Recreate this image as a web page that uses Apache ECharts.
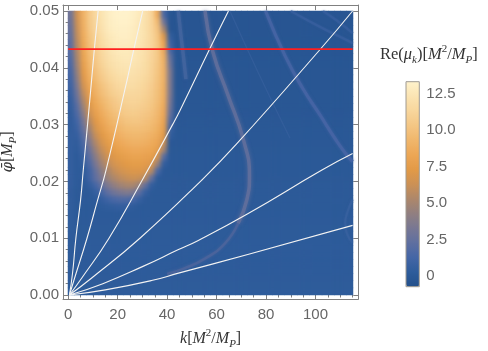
<!DOCTYPE html>
<html><head><meta charset="utf-8">
<script src="https://cdn.jsdelivr.net/npm/echarts@6/dist/echarts.min.js"></script>
<style>
html,body{margin:0;padding:0;background:#fff}
#wrap{position:relative;width:488px;height:351px}
#c1,#c3{position:absolute;left:0;top:0;width:488px;height:351px}
#clip{position:absolute;left:68px;top:11px;width:285px;height:284px;overflow:hidden}
#c2{position:absolute;left:0;top:0;width:285px;height:284px;filter:url(#soft)}
</style>
</head><body>
<svg width="0" height="0" style="position:absolute">
  <filter id="soft" x="0" y="0" width="1" height="1" color-interpolation-filters="sRGB">
    <feGaussianBlur stdDeviation="2"/>
    <feComponentTransfer><feFuncA type="table" tableValues="1 1"/></feComponentTransfer>
  </filter>
</svg>
<div id="wrap"><div id="c1"></div><div id="clip"><div id="c2"></div></div><div id="c3"></div></div>
<script>
// ---- grid of the density plot ----
const kStep = 2.5, kCount = 46;          // k from 0 to 115
const phiStep = 0.00125, phiCount = 40;  // phi from 0 to 0.05

// background value per row (bottom -> top)
const rowBackground = [
  0.25,0.24,0.23,0.22,0.21,0.2,0.19,0.18,0.16,0.15,
  0.14,0.12,0.11,0.1,0.08,0.07,0.05,0.04,0.02,0,
  -0.02,-0.04,-0.06,-0.08,-0.1,-0.12,-0.14,-0.16,-0.18,-0.2,
  -0.21,-0.22,-0.23,-0.24,-0.25,-0.26,-0.27,-0.28,-0.29,-0.3
];

// instability blob: [row, values from column 0]; null = background
const blobRows = [
  [39,[3.0,6.5,9.0,10.5,11.5,12.3,12.9,13.2,13.3,13.3,13.1,12.7,12.1,11.2,8.5,1.5]],
  [38,[2.8,6.3,8.9,10.4,11.4,12.2,12.8,13.1,13.2,13.2,13.0,12.6,12.0,11.2,9.5,3.0]],
  [37,[2.6,6.1,8.8,10.3,11.3,12.1,12.7,13.0,13.1,13.1,12.9,12.5,12.0,11.2,10.0,5.0]],
  [36,[2.4,5.9,8.6,10.1,11.1,11.9,12.5,12.8,13.0,13.0,12.8,12.5,12.0,11.3,10.2,7.0,0.5]],
  [35,[2.2,5.7,8.4,9.9,10.9,11.7,12.3,12.7,12.8,12.8,12.7,12.4,11.9,11.3,10.3,8.0,1.0]],
  [34,[2.0,5.4,8.2,9.7,10.7,11.5,12.1,12.5,12.7,12.7,12.6,12.3,11.9,11.3,10.4,8.5,1.5]],
  [33,[1.8,5.1,8.0,9.5,10.5,11.3,11.9,12.3,12.5,12.6,12.5,12.2,11.8,11.2,10.4,8.8,2.5]],
  [32,[1.6,4.8,7.7,9.3,10.3,11.1,11.7,12.1,12.3,12.4,12.3,12.1,11.7,11.1,10.3,9.0,3.0]],
  [31,[1.4,4.4,7.4,9.0,10.0,10.8,11.4,11.8,12.1,12.2,12.1,11.9,11.6,11.0,10.2,9.0,3.5]],
  [30,[1.2,4.0,7.0,8.7,9.7,10.5,11.1,11.5,11.8,11.9,11.9,11.7,11.4,10.9,10.1,9.0,3.5]],
  [29,[1.0,3.5,6.5,8.3,9.3,10.1,10.7,11.2,11.5,11.7,11.7,11.5,11.2,10.7,10.0,8.9,3.5]],
  [28,[0.8,3.0,5.9,7.9,9.0,9.8,10.4,10.9,11.2,11.4,11.4,11.3,11.0,10.6,9.9,8.8,3.5]],
  [27,[0.6,2.5,5.3,7.4,8.6,9.4,10.0,10.5,10.9,11.1,11.2,11.1,10.8,10.4,9.8,8.7,3.3]],
  [26,[0.5,2.0,4.6,6.9,8.2,9.0,9.7,10.2,10.6,10.8,10.9,10.8,10.6,10.2,9.6,8.5,3.0]],
  [25,[0.4,1.6,3.9,6.3,7.7,8.6,9.3,9.8,10.2,10.5,10.6,10.5,10.3,10.0,9.4,8.3,2.5]],
  [24,[0.4,1.2,3.2,5.6,7.2,8.2,8.9,9.4,9.8,10.1,10.2,10.2,10.0,9.7,9.2,8.0,1.8]],
  [23,[0.4,0.9,2.6,4.9,6.7,7.7,8.5,9.0,9.4,9.7,9.8,9.8,9.7,9.4,8.9,7.7,1.0]],
  [22,[0.5,0.6,2.0,4.2,6.1,7.2,8.0,8.6,9.0,9.3,9.4,9.4,9.3,9.0,8.6,7.3,0.5]],
  [21,[0.5,0.4,1.5,3.5,5.4,6.7,7.5,8.1,8.5,8.8,9.0,9.0,8.9,8.6,8.2,6.5]],
  [20,[0.5,0.3,1.1,2.8,4.7,6.1,7.0,7.6,8.0,8.3,8.5,8.5,8.4,8.2,7.7,5.0]],
  [19,[0.5,0.2,0.8,2.2,4.0,5.5,6.5,7.1,7.5,7.8,8.0,8.0,7.9,7.7,6.5,2.0]],
  [18,[0.5,0.2,0.5,1.6,3.3,4.8,5.9,6.6,7.0,7.3,7.5,7.5,7.4,7.0,4.5,0.5]],
  [17,[0.5,0.2,0.3,1.1,2.6,4.1,5.2,6.0,6.5,6.8,7.0,7.0,6.8,5.5,1.5]],
  [16,[0.5,0.2,0.2,1.0,2.3,3.5,4.6,5.3,5.8,6.1,6.3,6.2,5.5,2.5,0.2]],
  [15,[0.5,0.2,0.1,0.5,1.3,2.5,3.5,4.3,4.8,5.1,5.2,4.5,2.5,0.5]],
  [14,[0.4,0.1,null,0.1,0.6,1.4,2.3,3.0,3.4,3.6,3.4,2.2,0.7]],
  [13,[0.4,null,null,null,0.2,0.6,1.1,1.5,1.7,1.7,1.4,0.7]],
  [12,[0.4,null,null,null,null,0.25,0.4,0.5,0.6,0.5,0.3]],
  [11,[0.35]],[10,[0.35]],[9,[0.35]],[8,[0.3]]
];

// white curves [k, phi]
const lineA = [[0.5,0],[1.8,0.004],[3.1,0.01],[5.0,0.0167],[6.1,0.022],[8.9,0.0351],[10.6,0.0434],[12.1,0.05]];
const lineB = [[0.5,0],[2.6,0.003],[7.6,0.01],[11.9,0.0167],[15.3,0.022],[22.9,0.0361],[26.6,0.0434],[30.1,0.05]];
const lineC = [[0.5,0],[5.5,0.003],[16.5,0.01],[29.9,0.0202],[42.2,0.03],[45.2,0.0325],[57.3,0.0434],[64.8,0.05]];
const lineD = [[0.5,0],[9.5,0.003],[29,0.01],[53.9,0.0202],[68.1,0.0266],[102.2,0.0434],[115,0.05]];
const lineE = [[0.5,0],[14,0.002],[30,0.005],[44.6,0.008],[52.6,0.0096],[72.6,0.0143],[102.6,0.022],[115,0.0249]];
const lineF = [[0.5,0],[15,0.0009],[33.7,0.00255],[44.6,0.00385],[72.6,0.00714],[115,0.01226]];
const whiteLines = [lineA, lineB, lineC, lineD, lineE, lineF];

// red reference line
const redLine = [[0,0.0433],[115,0.0433]];

// faint resonance bands [k, phi]
const band1 = [[44.5,0.05],[45.5,0.046],[46.6,0.042],[47.6,0.038]];
const band2Upper = [[55.3,0.05],[58.5,0.0428],[64.6,0.0352],[70.8,0.0274],[73.3,0.021],[72.2,0.0167],[68.7,0.0126]];
const band2Lower = [[68.7,0.0126],[63.4,0.0091],[55.3,0.0064],[47,0.0047],[40,0.0037]];
const band3 = [[79.8,0.05],[87.6,0.0422],[94.8,0.0364],[101.8,0.0317],[107.8,0.0276],[112,0.025],[115,0.0235]];
const band4 = [[90,0.05],[101.8,0.0472],[113.9,0.0446],[115,0.0443]];
const band5 = [[103,0.05],[109,0.0482],[115,0.0461]];
const faintLine = [[65.4,0.05],[77,0.039],[89.7,0.0276]];
const arcRight = [[115,0.0168],[113,0.0147],[112,0.0127],[112.7,0.0108],[115,0.0092]];

// ticks
const xMajor = [0,20,40,60,80,100];
const xMinor = [5,10,15,25,30,35,45,50,55,65,70,75,85,90,95,105,110,115];
const yMajor = [0,0.01,0.02,0.03,0.04,0.05];
const yMinor = [0.002,0.004,0.006,0.008,0.012,0.014,0.016,0.018,0.022,0.024,0.026,0.028,0.032,0.034,0.036,0.038,0.042,0.044,0.046,0.048];
const cbMajor = [0,2.5,5,7.5,10,12.5];
const cbMinor = [-0.5,0.5,1,1.5,2,3,3.5,4,4.5,5.5,6,6.5,7,8,8.5,9,9.5,10.5,11,11.5,12,13];
const cbMin = -0.73, cbMax = 13.3;
const palette = ['#23508b','#2e5c9b','#4466a6','#5f6fa0','#787793','#917f80','#ad876a','#cc9155','#e29a47','#eca655','#f0b66b','#f4c684','#f8d69c','#fbe4b2','#fff2cb'];

// ---- build ----
const kCats = [], phiCats = [];
for (let c = 0; c < kCount; c++) kCats.push(String(c));
for (let r = 0; r < phiCount; r++) phiCats.push(String(r));
const blobMap = {};
blobRows.forEach(([r, vals]) => blobMap[r] = vals);
const heatData = [];
for (let r = 0; r < phiCount; r++) {
  const vals = blobMap[r];
  for (let c = 0; c < kCount; c++) {
    let v = rowBackground[r];
    if (vals && c < vals.length && vals[c] !== null) v = vals[c];
    heatData.push([c, r, v]);
  }
}

const FRAME = '#808080', LABEL = '#666';
const sansLbl = {color: LABEL, fontSize: 15, fontFamily: 'Liberation Sans, Arial, sans-serif'};
const serif = 'Liberation Serif, DejaVu Serif, serif';
function richSet(fs, sfs) {
  return {
    r: {fontFamily: serif, fontSize: fs, fontWeight: 'normal', color: '#333', lineHeight: 22},
    i: {fontFamily: serif, fontSize: fs, fontWeight: 'normal', fontStyle: 'italic', color: '#333', lineHeight: 22},
    ph: {fontFamily: 'DejaVu Serif, serif', fontSize: fs - 1, fontWeight: 'normal', fontStyle: 'italic', color: '#333', lineHeight: 22},
    sup: {fontFamily: serif, fontSize: sfs, fontWeight: 'normal', color: '#333', lineHeight: 11, verticalAlign: 'top'},
    sub: {fontFamily: serif, fontSize: sfs, fontWeight: 'normal', fontStyle: 'italic', color: '#333', lineHeight: 11, verticalAlign: 'bottom'}
  };
}

const frameRect = {left: 63, top: 5, right: 129.7, bottom: 52, outerBoundsMode: 'none', containLabel: false};
const heatRect = {left: 68, top: 11, right: 135, bottom: 56, outerBoundsMode: 'none', containLabel: false};
const cbRect = {left: 406, top: 81.7, width: 13.3, height: 205, outerBoundsMode: 'none', containLabel: false};

function valAxis(gridIndex, pos, min, max, major, opts) {
  return Object.assign({
    gridIndex, type: 'value', position: pos, min, max,
    axisLine: {show: true, onZero: false, lineStyle: {color: FRAME, width: 1}},
    axisTick: {show: true, inside: true, length: 5, customValues: major, lineStyle: {color: FRAME, width: 1}},
    axisLabel: {show: false},
    splitLine: {show: false}, silent: true
  }, opts || {});
}
const minorTick = vals => ({axisLine: {show: false}, axisTick: {show: true, inside: true, length: 2.5, customValues: vals, lineStyle: {color: FRAME}}});

const xAxes = [
  {gridIndex: 0, type: 'category', data: kCats, show: false},
  valAxis(1, 'bottom', -2.1, 117.3, xMajor, {
    axisLabel: Object.assign({show: true, customValues: xMajor, margin: 8}, sansLbl),
    name: '{i|k}{r|[}{i|M}{sup|2}{r|/}{i|M}{sub|P}{r|]}', nameLocation: 'middle', nameGap: 29,
    nameTextStyle: {rich: richSet(16, 11)}
  }),
  valAxis(1, 'top', -2.1, 117.3, xMajor),
  valAxis(2, 'bottom', -2.1, 117.3, xMinor, minorTick(xMinor)),
  valAxis(2, 'top', -2.1, 117.3, xMinor, minorTick(xMinor)),
  {gridIndex: 3, type: 'value', min: 0, max: 1, show: false},
  {gridIndex: 4, type: 'value', min: 0, max: 1, show: false}
];
const yAxes = [
  {gridIndex: 0, type: 'category', data: phiCats, show: false},
  valAxis(1, 'left', -0.0007, 0.05106, yMajor, {
    axisLabel: Object.assign({show: true, customValues: yMajor, margin: 4, formatter: v => v.toFixed(2)}, sansLbl),
    name: '{ph|φ̄}{r|[}{i|M}{sub|P}{r|]}', nameLocation: 'middle', nameGap: 34,
    nameTextStyle: {rich: richSet(16, 11)}
  }),
  valAxis(1, 'right', -0.0007, 0.05106, yMajor),
  valAxis(2, 'left', -0.0007, 0.05106, yMinor, minorTick(yMinor)),
  valAxis(2, 'right', -0.0007, 0.05106, yMinor, minorTick(yMinor)),
  valAxis(3, 'right', cbMin, cbMax, cbMajor, {
    axisLine: {show: false},
    axisTick: {show: true, inside: false, length: 3, customValues: cbMajor, lineStyle: {color: '#999'}},
    axisLabel: Object.assign({show: true, customValues: cbMajor, margin: 7, formatter: v => v === 0 ? '0' : v.toFixed(1)}, sansLbl)
  }),
  valAxis(4, 'right', cbMin, cbMax, cbMinor, {
    axisLine: {show: false},
    axisTick: {show: true, inside: false, length: 2, customValues: cbMinor, lineStyle: {color: '#aaa'}}
  })
];

const heatSeries = {type: 'heatmap', xAxisIndex: 0, yAxisIndex: 0, data: heatData, silent: true, z: 1, emphasis: {disabled: true}};
const vmBase = {type: 'continuous', seriesIndex: 0, min: cbMin, max: cbMax, inRange: {color: palette},
  calculable: false, hoverLink: false, realtime: false, text: null, showLabel: false, padding: 0};

// Layer 1: heat (sharp), frame, axes, colorbar, texts
const c1 = echarts.init(document.getElementById('c1'), null, {renderer: 'canvas', width: 488, height: 351});
c1.setOption({
  animation: false,
  backgroundColor: '#ffffff',
  title: {
    text: '{r|Re(}{i|μ}{sub|k}{r|)[}{i|M}{sup|2}{r|/}{i|M}{sub|P}{r|]}',
    left: 380, top: 44, padding: 0,
    textStyle: {fontWeight: 'normal', rich: richSet(16.5, 11)}
  },
  grid: [
    Object.assign({}, heatRect, {show: false}),
    Object.assign({}, frameRect),
    Object.assign({}, frameRect),
    Object.assign({}, cbRect, {show: true, borderColor: '#a09a90', borderWidth: 1, backgroundColor: 'transparent', z: 5}),
    Object.assign({}, cbRect)
  ],
  xAxis: xAxes,
  yAxis: yAxes,
  visualMap: Object.assign({}, vmBase, {left: 406, top: 81.7, itemWidth: 13.3, itemHeight: 205}),
  series: [heatSeries]
});

// Layer 2: same heat data, softened like an interpolated density plot
const c2 = echarts.init(document.getElementById('c2'), null, {renderer: 'canvas', width: 285, height: 284});
c2.setOption({
  animation: false,
  grid: {left: 0, top: 0, right: 0, bottom: 0, outerBoundsMode: 'none', containLabel: false, show: false},
  xAxis: {type: 'category', data: kCats, show: false},
  yAxis: {type: 'category', data: phiCats, show: false},
  visualMap: Object.assign({}, vmBase, {show: false}),
  series: [Object.assign({}, heatSeries, {xAxisIndex: 0, yAxisIndex: 0})]
});

// Layer 3: curves on the frame's value axes
function curve(data, color, width, opacity, z, blur) {
  return {
    type: 'line', data, smooth: true, symbol: 'none', silent: true, clip: true, z,
    lineStyle: {color, width, opacity, cap: 'butt', shadowBlur: blur || 0, shadowColor: blur ? color : 'transparent'}
  };
}
const series3 = [
  curve(band1, '#46669f', 3.5, 0.7, 3, 3),
  curve(band2Upper, '#65709c', 3.5, 0.8, 3, 4),
  curve(band2Lower, '#55689d', 2.5, 0.6, 3, 3),
  curve(band3, '#4a67a6', 3.2, 0.7, 3, 3),
  curve(band4, '#3b61a1', 2.5, 0.5, 3, 2),
  curve(band5, '#3b61a1', 2.5, 0.45, 3, 2),
  curve(faintLine, '#3c63a2', 1.3, 0.5, 3, 0),
  curve(arcRight, '#3c63a2', 2.2, 0.5, 3, 2)
];
whiteLines.forEach(l => series3.push(curve(l, '#f3f3f3', 1.1, 1, 5, 0)));
series3.push(curve(redLine, '#ff1f1f', 1.6, 1, 6, 0));

const c3 = echarts.init(document.getElementById('c3'), null, {renderer: 'canvas', width: 488, height: 351});
c3.setOption({
  animation: false,
  backgroundColor: 'transparent',
  grid: Object.assign({}, frameRect, {show: false}),
  xAxis: {type: 'value', min: -2.1, max: 117.3, show: false},
  yAxis: {type: 'value', min: -0.0007, max: 0.05106, show: false},
  series: series3
});
</script></body></html>
